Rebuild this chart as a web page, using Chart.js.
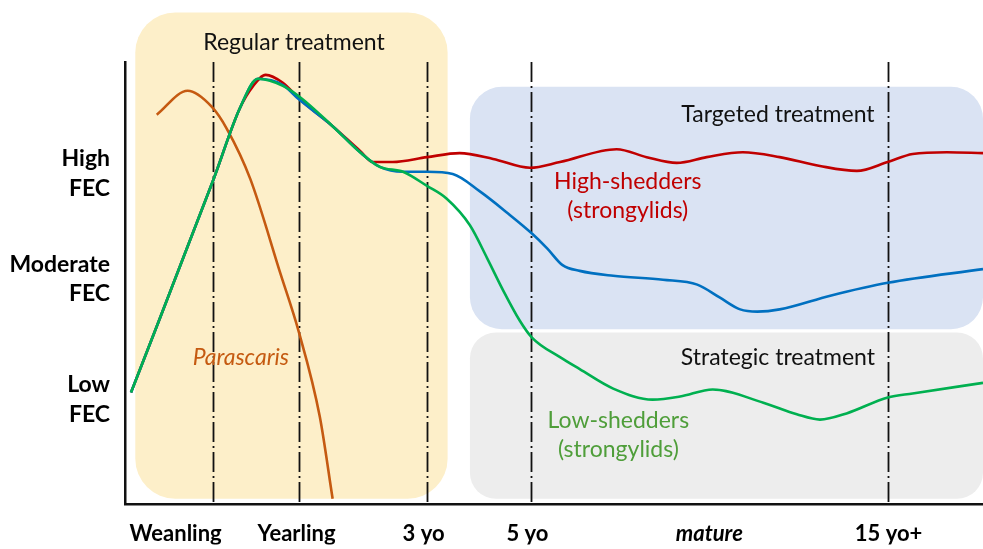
<!DOCTYPE html>
<html>
<head>
<meta charset="utf-8">
<script src="https://cdn.jsdelivr.net/npm/chart.js@4.4.1/dist/chart.umd.min.js"></script>
<style>
  html, body { margin: 0; padding: 0; background: #fff; }
  #wrap { width: 983px; height: 549px; }
</style>
</head>
<body>
<div id="wrap"><canvas id="c" width="983" height="549"></canvas></div>
<script>
/* ===== FEC over a horse's life — concept chart ===== */
// x: age axis (0–100 arbitrary), y: FEC level (0–100 arbitrary)

const xTickVals = [5.9, 20.0, 34.8, 46.9, 68.1, 89.0];
const xTickLabels = ['Weanling', 'Yearling', '3 yo', '5 yo', 'mature', '15 yo+'];
const yTickVals = [23.7, 51.0, 74.8];
const yTickLabels = [['Low', 'FEC'], ['Moderate', 'FEC'], ['High', 'FEC']];
const stageMarks = [10.3, 20.3, 35.2, 47.3, 88.9];

// high-shedders (red)
const highX = [0.7, 10.3, 13.4, 14.9, 16.4, 18.4, 20.3, 24.2, 27.4, 28.9, 31.2, 35.2, 39.0, 42.9, 47.2, 50.7, 57.3, 60.8, 64.3, 67.8, 72.0, 76.3, 81.0, 85.3, 88.9, 91.8, 95.8, 100];
const highY = [25.3, 73.4, 89.6, 94.5, 97.1, 95.3, 91.7, 85.5, 79.9, 77.4, 77.4, 78.5, 79.4, 78.1, 76.1, 77.4, 80.3, 78.5, 77.2, 78.5, 79.6, 78.5, 76.5, 75.4, 77.4, 79.2, 79.6, 79.4];
// moderate (blue)
const modX = [0.7, 10.3, 13.4, 15.5, 18.4, 20.3, 24.2, 27.4, 29.7, 32.4, 35.2, 38.2, 41.4, 44.5, 47.4, 49.2, 51.0, 53.0, 56.9, 62.7, 66.7, 69.3, 71.7, 73.7, 76.3, 82.2, 88.9, 100];
const modY = [25.3, 73.4, 89.6, 96.2, 94.8, 91.5, 85.5, 79.6, 76.3, 75.2, 75.2, 74.7, 70.7, 66.0, 61.3, 57.9, 54.1, 52.8, 51.7, 50.8, 49.7, 46.8, 44.1, 43.6, 44.1, 47.2, 50.1, 53.2];
// low-shedders (green)
const lowX = [0.7, 10.3, 13.4, 15.5, 18.4, 20.3, 24.2, 27.4, 29.7, 32.4, 35.2, 37.5, 40.2, 42.2, 44.1, 46.0, 47.4, 50.7, 53.0, 56.9, 61.5, 64.7, 68.5, 74.4, 78.3, 81.0, 84.1, 88.9, 91.8, 100];
const lowY = [25.3, 73.4, 89.6, 96.2, 94.6, 92.2, 85.5, 79.6, 76.3, 75.2, 72.0, 69.1, 63.1, 55.7, 48.3, 41.6, 37.8, 33.3, 30.6, 26.2, 23.7, 24.4, 26.0, 23.0, 20.4, 19.2, 20.6, 24.2, 25.1, 27.5];
// Parascaris (orange)
const paraX = [3.7, 7.3, 10.1, 11.9, 14.6, 18.1, 20.2, 22.7, 24.2];
const paraY = [88.1, 93.5, 89.9, 84.8, 73.6, 52.3, 39.4, 19.9, 1.3];

const FONT = 'Lato, "Open Sans", sans-serif';
const INK = '#111';
const RED = '#c00000', BLUE = '#0070c0', GREEN = '#00b050', ORANGE = '#c55a11';

const zones = [
  { x0: 1.2, x1: 37.6, y0: 1.3, y1: 111.2, r: 40, fill: '#fdefc9' },
  { x0: 40.2, x1: 100, y0: 39.6, y1: 94.4, r: 32, fill: '#dae3f3' },
  { x0: 40.2, x1: 100, y0: 1.3, y1: 38.9, r: 26, fill: '#ededed' }
];

const notes = [
  { t: 'Regular treatment', x: 19.7, y: 104.5, c: INK },
  { t: 'Targeted treatment', x: 76.1, y: 88.1, c: INK },
  { t: 'Strategic treatment', x: 76.1, y: 33.3, c: INK },
  { t: 'High-shedders', x: 58.6, y: 72.9, c: RED },
  { t: '(strongylids)', x: 58.6, y: 66.4, c: RED },
  { t: 'Low-shedders', x: 57.5, y: 19.0, c: '#4f9e3a' },
  { t: '(strongylids)', x: 57.5, y: 12.5, c: '#4f9e3a' },
  { t: 'Parascaris', x: 13.5, y: 33.1, c: ORANGE, italic: true }
];

const pts = (xs, ys) => xs.map((x, i) => ({ x, y: ys[i] }));

function rrect(ctx, x, y, w, h, r) {
  ctx.beginPath();
  ctx.moveTo(x + r, y);
  ctx.arcTo(x + w, y, x + w, y + h, r);
  ctx.arcTo(x + w, y + h, x, y + h, r);
  ctx.arcTo(x, y + h, x, y, r);
  ctx.arcTo(x, y, x + w, y, r);
  ctx.closePath();
}

const backdrop = {
  id: 'backdrop',
  beforeDraw(chart) {
    const { ctx, scales: { x, y } } = chart;
    ctx.save();
    zones.forEach(z => {
      const l = x.getPixelForValue(z.x0), r = x.getPixelForValue(z.x1);
      const t = y.getPixelForValue(z.y1), b = y.getPixelForValue(z.y0);
      ctx.fillStyle = z.fill;
      rrect(ctx, l, t, r - l, b - t, z.r);
      ctx.fill();
    });
    ctx.restore();
  },
  beforeDatasetsDraw(chart) {
    const { ctx, chartArea: a, scales: { x } } = chart;
    ctx.save();
    ctx.strokeStyle = INK;
    ctx.lineWidth = 1.8;
    ctx.setLineDash([20, 4, 2, 4]);
    stageMarks.forEach(v => {
      const px = Math.round(x.getPixelForValue(v)) + 0.5;
      ctx.beginPath(); ctx.moveTo(px, a.top); ctx.lineTo(px, a.bottom); ctx.stroke();
    });
    ctx.restore();
  },
  afterDatasetsDraw(chart) {
    const { ctx, scales: { x, y } } = chart;
    ctx.save();
    ctx.textAlign = 'center';
    ctx.textBaseline = 'middle';
    notes.forEach(n => {
      ctx.font = (n.italic ? 'italic ' : '') + '23px ' + FONT;
      ctx.fillStyle = n.c;
      ctx.fillText(n.t, x.getPixelForValue(n.x), y.getPixelForValue(n.y));
    });
    ctx.restore();
  }
};

const line = (data, col) => ({
  data, borderColor: col, borderWidth: 2.6, pointRadius: 0,
  cubicInterpolationMode: 'monotone', fill: false
});

new Chart(document.getElementById('c'), {
  type: 'line',
  data: {
    datasets: [
      line(pts(lowX, lowY), GREEN),
      line(pts(modX, modY), BLUE),
      line(pts(highX, highY), RED),
      line(pts(paraX, paraY), ORANGE)
    ]
  },
  options: {
    responsive: false, animation: false,
    layout: { padding: { top: 62, left: 0, right: 0, bottom: 0 } },
    plugins: { legend: { display: false }, tooltip: { enabled: false } },
    scales: {
      x: {
        type: 'linear', min: 0, max: 100,
        afterFit: s => { s.height = 40; },
        afterBuildTicks: s => { s.ticks = xTickVals.map(v => ({ value: v })); },
        grid: { display: false, drawTicks: false },
        border: { display: true, color: INK, width: 2.5 },
        ticks: {
          autoSkip: false, maxRotation: 0, padding: 16, color: '#000',
          font: c => ({ family: FONT, size: 22, weight: 'bold', style: c.index === 4 ? 'italic' : 'normal' }),
          callback: (v, i) => xTickLabels[i]
        }
      },
      y: {
        type: 'linear', min: 0, max: 100,
        afterFit: s => { s.width = 125; },
        afterBuildTicks: s => { s.ticks = yTickVals.map(v => ({ value: v })); },
        grid: { display: false, drawTicks: false },
        border: { display: true, color: INK, width: 2.5 },
        ticks: {
          autoSkip: false, padding: 15, color: '#000',
          font: { family: FONT, size: 23, weight: 'bold', lineHeight: 1.28 },
          callback: (v, i) => yTickLabels[i]
        }
      }
    }
  },
  plugins: [backdrop]
});
</script>
</body>
</html>
